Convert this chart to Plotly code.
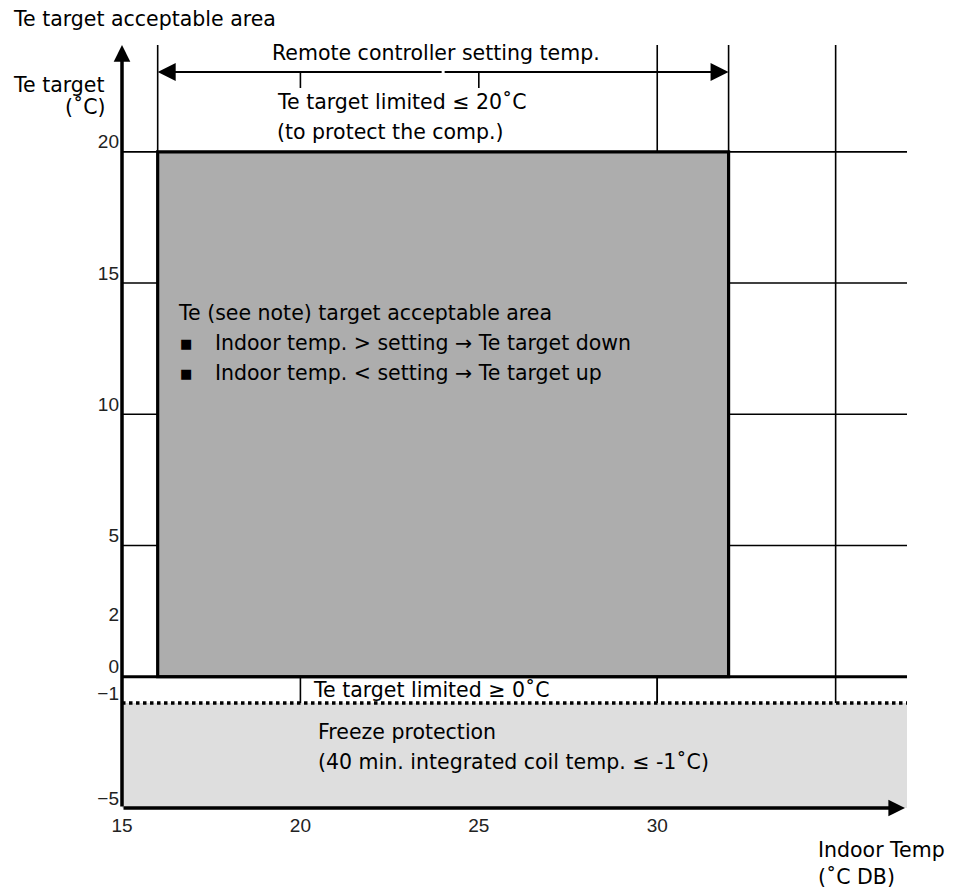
import plotly.graph_objects as go

# ---- data ----
x_ticks = [15, 20, 25, 30]
y_ticks = [-5, -1, 0, 2, 5, 10, 15, 20]
x_range = [15, 37]
y_range = [-5, 24.07]
setting_range = [16, 32]          # remote controller setting temp.
te_limits = [0, 20]               # Te target acceptable area
freeze_limit = -1                 # freeze protection threshold
grid_y = [5, 10, 15, 20]
grid_x_full = [30, 35]            # vertical grid lines from -1 to top
grid_x_box = [16, 32]             # box edges extended to top
arrow_y = 23.04                   # level of the setting-temp arrow
short_tick_x = [20, 25]
short_tick_low_x = [20, 30]

FONT = "DejaVu Sans"
FS = 20.5

# pixel helpers for text placement
L, R, T, B = 122, 907, 45, 808
def px2x(px):
    return x_range[0] + (px - L) / (R - L) * (x_range[1] - x_range[0])
def py2y(py):
    return y_range[0] + (B - py) / (B - T) * (y_range[1] - y_range[0])
def ppx(px):
    return (px - L) / (R - L)
def ppy(py):
    return (B - py) / (B - T)

fig = go.Figure()
fig.add_trace(go.Scatter(x=x_range, y=[y_range[0], y_range[0]], mode="lines",
                         line=dict(width=0), hoverinfo="skip", showlegend=False))

shapes = []
# freeze protection area
shapes.append(dict(type="rect", x0=x_range[0], x1=x_range[1], y0=y_range[0], y1=freeze_limit,
                   fillcolor="#dedede", line=dict(width=0), layer="below"))
# horizontal grid lines
for gy in grid_y:
    shapes.append(dict(type="line", x0=x_range[0], x1=x_range[1], y0=gy, y1=gy,
                       line=dict(color="black", width=1.6)))
# vertical grid lines
for gx in grid_x_full:
    shapes.append(dict(type="line", x0=gx, x1=gx, y0=freeze_limit, y1=y_range[1],
                       line=dict(color="black", width=1.6)))
for gx in grid_x_box:
    shapes.append(dict(type="line", x0=gx, x1=gx, y0=te_limits[1], y1=y_range[1],
                       line=dict(color="black", width=1.6)))
for gx in short_tick_x:
    shapes.append(dict(type="line", x0=gx, x1=gx, y0=py2y(88), y1=arrow_y,
                       line=dict(color="black", width=1.6)))
for gx in short_tick_low_x:
    shapes.append(dict(type="line", x0=gx, x1=gx, y0=freeze_limit, y1=te_limits[0],
                       line=dict(color="black", width=1.6)))
# acceptable area box
shapes.append(dict(type="rect", x0=setting_range[0], x1=setting_range[1],
                   y0=te_limits[0], y1=te_limits[1],
                   fillcolor="#adadad", line=dict(color="black", width=3.2)))
# 0 line
shapes.append(dict(type="line", x0=x_range[0], x1=x_range[1], y0=te_limits[0], y1=te_limits[0],
                   line=dict(color="black", width=3)))
# -1 dotted
shapes.append(dict(type="line", x0=x_range[0], x1=x_range[1], y0=freeze_limit, y1=freeze_limit,
                   line=dict(color="black", width=3.5, dash="dot")))

ann = []
# axes with arrows
ann.append(dict(x=x_range[0], y=y_range[1], ax=x_range[0], ay=y_range[0],
                xref="x", yref="y", axref="x", ayref="y", text="", showarrow=True,
                arrowhead=2, arrowwidth=3.5, arrowsize=0.95, arrowcolor="black", standoff=0))
ann.append(dict(x=px2x(905), y=y_range[0], ax=x_range[0], ay=y_range[0],
                xref="x", yref="y", axref="x", ayref="y", text="", showarrow=True,
                arrowhead=2, arrowwidth=3.5, arrowsize=0.95, arrowcolor="black", standoff=0))
# double-headed setting arrow
mid = (setting_range[0] + setting_range[1]) / 2
for end in setting_range:
    ann.append(dict(x=end, y=arrow_y, ax=mid, ay=arrow_y,
                    xref="x", yref="y", axref="x", ayref="y", text="", showarrow=True,
                    arrowhead=2, arrowwidth=2, arrowsize=1.8, arrowcolor="black", standoff=0))

def txt(t, x, y, xref="x", yref="y", size=FS, xanchor="left", family=FONT):
    ann.append(dict(text=t, x=x, y=y, xref=xref, yref=yref, xanchor=xanchor,
                    yanchor="middle", showarrow=False,
                    font=dict(family=family, size=size, color="black")))

txt("Te target acceptable area", ppx(11), ppy(19), "paper", "paper")
txt("Te target", ppx(11), ppy(85), "paper", "paper")
txt("(˚C)", ppx(63), ppy(107), "paper", "paper")
txt("Indoor Temp", ppx(816), ppy(850), "paper", "paper")
txt("(˚C DB)", ppx(816), ppy(877), "paper", "paper")

txt("Remote controller setting temp.", px2x(270), py2y(53))
txt("Te target limited ≤ 20˚C", px2x(275), py2y(102))
txt("(to protect the comp.)", px2x(275), py2y(132))
txt("Te (see note) target acceptable area", px2x(176), py2y(313))
txt("■", px2x(178), py2y(343), size=13)
txt("Indoor temp. > setting → Te target down", px2x(213), py2y(343))
txt("■", px2x(178), py2y(373), size=13)
txt("Indoor temp. < setting → Te target up", px2x(213), py2y(373))
txt("Te target limited ≥ 0˚C", px2x(311), py2y(690))
txt("Freeze protection", px2x(316), py2y(732))
txt("(40 min. integrated coil temp. ≤ -1˚C)", px2x(316), py2y(762))

tickfont = dict(family="Liberation Sans", size=19, color="#222")
fig.update_layout(
    width=967, height=894,
    margin=dict(l=L, r=967 - R, t=T, b=894 - B, autoexpand=False),
    paper_bgcolor="white", plot_bgcolor="white",
    shapes=shapes, annotations=ann, showlegend=False,
    xaxis=dict(range=x_range, tickvals=x_ticks, ticktext=[str(v) for v in x_ticks],
               showgrid=False, zeroline=False, showline=False, ticks="",
               tickfont=tickfont, ticklabelstandoff=4, fixedrange=True, automargin=False),
    yaxis=dict(range=y_range, tickvals=y_ticks, ticktext=[str(v).replace("-", "−") for v in y_ticks],
               showgrid=False, zeroline=False, showline=False, ticks="",
               tickfont=tickfont, ticklabelshift=-10, ticklabelstandoff=2, fixedrange=True,
               automargin=False),
)
fig.write_html("out.html", config={"displayModeBar": False},
               post_script="document.body.style.margin='0';")
